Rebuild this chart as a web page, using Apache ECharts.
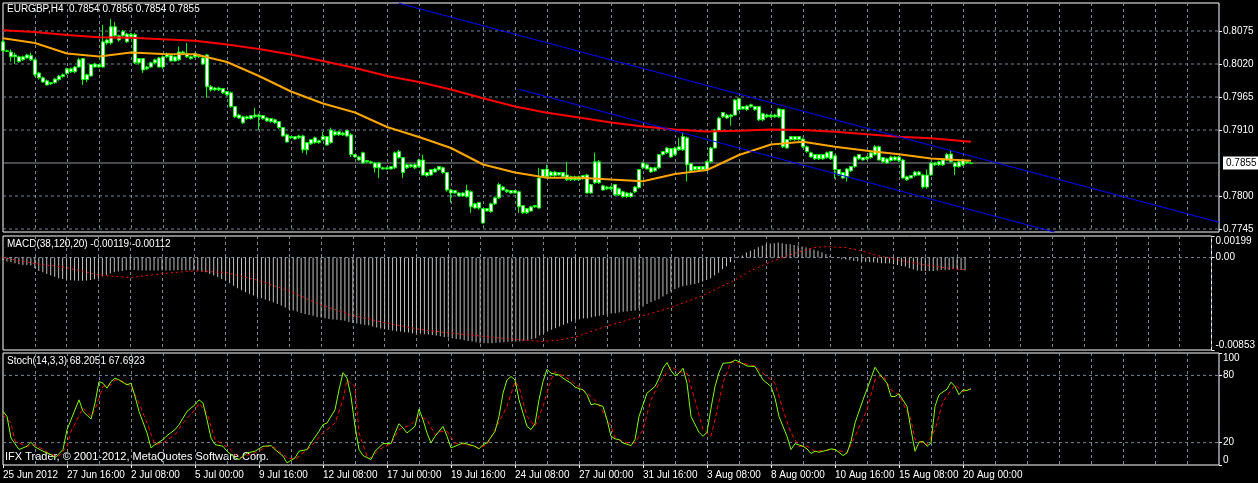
<!DOCTYPE html>
<html>
<head>
<meta charset="utf-8">
<script src="https://cdn.jsdelivr.net/npm/echarts@6/dist/echarts.min.js"></script>
<style>
  html, body { margin: 0; padding: 0; background: #000; }
  #main { width: 1258px; height: 483px; }
</style>
</head>
<body>
<div id="main"></div>
<script>
// time axis labels, one every 16 bars (H4)
var timeLabels = ['25 Jun 2012', '27 Jun 16:00', '2 Jul 08:00', '5 Jul 00:00', '9 Jul 16:00', '12 Jul 08:00',
  '17 Jul 00:00', '19 Jul 16:00', '24 Jul 08:00', '27 Jul 00:00', '31 Jul 16:00', '3 Aug 08:00',
  '8 Aug 00:00', '10 Aug 16:00', '15 Aug 08:00', '20 Aug 00:00'];
var slotCount = 305; // visible bar slots incl. empty right side

// EURGBP H4 candles: [open, close, low, high]
var candles = [
  [0.8057,0.8042,0.8040,0.8060],[0.8042,0.8041,0.8040,0.8044],[0.8040,0.8032,0.8024,0.8044],[0.8032,0.8035,0.8020,0.8039],
  [0.8032,0.8024,0.8022,0.8034],[0.8027,0.8032,0.8025,0.8034],[0.8030,0.8035,0.8029,0.8037],[0.8034,0.8027,0.8025,0.8039],
  [0.8027,0.8002,0.7999,0.8029],[0.8005,0.7997,0.7994,0.8007],[0.7997,0.7990,0.7989,0.7999],[0.7992,0.7985,0.7984,0.7994],
  [0.7989,0.7987,0.7985,0.7990],[0.7989,0.7995,0.7987,0.7997],[0.7994,0.8000,0.7992,0.8002],[0.7999,0.8002,0.7997,0.8004],
  [0.8004,0.8012,0.8002,0.8014],[0.8007,0.8012,0.8005,0.8014],[0.8007,0.8015,0.8005,0.8017],[0.8015,0.8027,0.8014,0.8030],
  [0.8029,0.7994,0.7985,0.8030],[0.7994,0.8002,0.7990,0.8004],[0.8000,0.8019,0.7999,0.8020],[0.8015,0.8020,0.8014,0.8022],
  [0.8019,0.8015,0.8014,0.8020],[0.8015,0.8057,0.8014,0.8085],[0.8055,0.8060,0.8052,0.8062],[0.8055,0.8082,0.8052,0.8095],
  [0.8082,0.8067,0.8065,0.8090],[0.8067,0.8060,0.8057,0.8069],[0.8067,0.8074,0.8065,0.8077],[0.8070,0.8057,0.8055,0.8072],
  [0.8065,0.8069,0.8064,0.8072],[0.8069,0.8022,0.8020,0.8072],[0.8022,0.8029,0.8019,0.8030],[0.8029,0.8010,0.8005,0.8030],
  [0.8012,0.8015,0.8010,0.8017],[0.8015,0.8022,0.8014,0.8024],[0.8022,0.8027,0.8020,0.8029],[0.8030,0.8015,0.8014,0.8032],
  [0.8015,0.8032,0.8012,0.8034],[0.8032,0.8037,0.8030,0.8039],[0.8034,0.8025,0.8024,0.8035],[0.8025,0.8032,0.8024,0.8034],
  [0.8027,0.8040,0.8025,0.8049],[0.8040,0.8037,0.8035,0.8042],[0.8037,0.8032,0.8030,0.8055],[0.8032,0.8029,0.8027,0.8034],
  [0.8032,0.8037,0.8030,0.8039],[0.8035,0.8032,0.8030,0.8037],[0.8030,0.8020,0.8019,0.8032],[0.8035,0.7982,0.7964,0.8037],
  [0.7982,0.7977,0.7974,0.7985],[0.7980,0.7977,0.7975,0.7982],[0.7977,0.7980,0.7975,0.7982],[0.7979,0.7972,0.7970,0.7980],
  [0.7974,0.7969,0.7967,0.7975],[0.7972,0.7949,0.7947,0.7974],[0.7949,0.7932,0.7930,0.7950],[0.7935,0.7930,0.7929,0.7937],
  [0.7932,0.7922,0.7920,0.7934],[0.7929,0.7932,0.7927,0.7934],[0.7934,0.7929,0.7927,0.7935],[0.7932,0.7935,0.7930,0.7947],
  [0.7935,0.7932,0.7910,0.7937],[0.7934,0.7929,0.7927,0.7935],[0.7930,0.7925,0.7924,0.7932],[0.7929,0.7924,0.7922,0.7930],
  [0.7927,0.7922,0.7920,0.7929],[0.7924,0.7914,0.7912,0.7925],[0.7914,0.7900,0.7899,0.7915],[0.7902,0.7890,0.7889,0.7904],
  [0.7897,0.7899,0.7895,0.7900],[0.7895,0.7899,0.7894,0.7900],[0.7897,0.7900,0.7895,0.7902],[0.7900,0.7877,0.7872,0.7902],
  [0.7877,0.7889,0.7869,0.7890],[0.7887,0.7894,0.7885,0.7895],[0.7889,0.7897,0.7887,0.7899],[0.7892,0.7889,0.7887,0.7894],
  [0.7894,0.7899,0.7892,0.7907],[0.7899,0.7885,0.7884,0.7900],[0.7889,0.7910,0.7887,0.7914],[0.7907,0.7902,0.7900,0.7909],
  [0.7902,0.7907,0.7900,0.7909],[0.7905,0.7902,0.7900,0.7907],[0.7900,0.7909,0.7899,0.7910],[0.7902,0.7869,0.7865,0.7905],
  [0.7869,0.7865,0.7864,0.7870],[0.7865,0.7860,0.7859,0.7867],[0.7855,0.7872,0.7854,0.7874],[0.7859,0.7857,0.7855,0.7860],
  [0.7857,0.7855,0.7854,0.7859],[0.7855,0.7847,0.7839,0.7857],[0.7847,0.7855,0.7830,0.7857],[0.7847,0.7845,0.7844,0.7849],
  [0.7847,0.7845,0.7844,0.7849],[0.7845,0.7849,0.7844,0.7850],[0.7847,0.7872,0.7845,0.7874],[0.7874,0.7864,0.7862,0.7877],
  [0.7864,0.7839,0.7830,0.7865],[0.7847,0.7852,0.7845,0.7854],[0.7849,0.7852,0.7847,0.7854],[0.7847,0.7852,0.7845,0.7854],
  [0.7849,0.7860,0.7847,0.7862],[0.7860,0.7835,0.7834,0.7869],[0.7839,0.7834,0.7832,0.7840],[0.7835,0.7844,0.7834,0.7845],
  [0.7840,0.7845,0.7839,0.7847],[0.7844,0.7849,0.7842,0.7850],[0.7847,0.7839,0.7837,0.7849],[0.7839,0.7810,0.7807,0.7840],
  [0.7810,0.7805,0.7789,0.7812],[0.7805,0.7809,0.7804,0.7810],[0.7805,0.7800,0.7799,0.7807],[0.7800,0.7805,0.7799,0.7807],
  [0.7799,0.7809,0.7797,0.7819],[0.7807,0.7782,0.7772,0.7809],[0.7787,0.7780,0.7779,0.7789],[0.7780,0.7789,0.7777,0.7790],
  [0.7779,0.7755,0.7754,0.7780],[0.7775,0.7779,0.7774,0.7780],[0.7774,0.7787,0.7772,0.7789],[0.7787,0.7797,0.7785,0.7799],
  [0.7797,0.7819,0.7795,0.7822],[0.7815,0.7810,0.7809,0.7817],[0.7810,0.7807,0.7805,0.7812],[0.7809,0.7805,0.7804,0.7810],
  [0.7809,0.7805,0.7804,0.7810],[0.7807,0.7782,0.7772,0.7809],[0.7784,0.7772,0.7770,0.7785],[0.7772,0.7779,0.7770,0.7780],
  [0.7775,0.7782,0.7774,0.7784],[0.7782,0.7784,0.7780,0.7785],[0.7780,0.7830,0.7779,0.7847],[0.7832,0.7844,0.7830,0.7845],
  [0.7845,0.7832,0.7830,0.7852],[0.7834,0.7840,0.7832,0.7842],[0.7840,0.7834,0.7832,0.7842],[0.7839,0.7835,0.7834,0.7840],
  [0.7839,0.7832,0.7830,0.7840],[0.7835,0.7827,0.7825,0.7857],[0.7832,0.7827,0.7825,0.7834],[0.7827,0.7832,0.7825,0.7834],
  [0.7832,0.7827,0.7825,0.7834],[0.7829,0.7834,0.7827,0.7835],[0.7835,0.7805,0.7804,0.7837],[0.7805,0.7819,0.7804,0.7820],
  [0.7822,0.7857,0.7820,0.7872],[0.7857,0.7822,0.7820,0.7860],[0.7817,0.7810,0.7809,0.7819],[0.7812,0.7815,0.7810,0.7817],
  [0.7815,0.7812,0.7810,0.7817],[0.7819,0.7802,0.7800,0.7820],[0.7802,0.7812,0.7800,0.7814],[0.7807,0.7799,0.7797,0.7809],
  [0.7799,0.7805,0.7797,0.7807],[0.7805,0.7799,0.7797,0.7807],[0.7807,0.7815,0.7805,0.7817],[0.7814,0.7844,0.7812,0.7845],
  [0.7847,0.7855,0.7845,0.7857],[0.7852,0.7845,0.7844,0.7854],[0.7847,0.7840,0.7839,0.7849],[0.7842,0.7847,0.7840,0.7849],
  [0.7847,0.7869,0.7845,0.7870],[0.7869,0.7874,0.7867,0.7875],[0.7872,0.7880,0.7870,0.7882],[0.7879,0.7865,0.7864,0.7880],
  [0.7869,0.7880,0.7867,0.7882],[0.7877,0.7882,0.7875,0.7897],[0.7877,0.7899,0.7875,0.7905],[0.7897,0.7852,0.7824,0.7899],
  [0.7854,0.7842,0.7840,0.7855],[0.7844,0.7849,0.7842,0.7850],[0.7849,0.7844,0.7842,0.7850],[0.7844,0.7849,0.7842,0.7850],
  [0.7844,0.7857,0.7842,0.7859],[0.7857,0.7880,0.7855,0.7882],[0.7880,0.7910,0.7879,0.7912],[0.7909,0.7930,0.7907,0.7932],
  [0.7932,0.7939,0.7930,0.7940],[0.7935,0.7930,0.7929,0.7937],[0.7932,0.7935,0.7917,0.7937],[0.7935,0.7960,0.7934,0.7962],
  [0.7962,0.7944,0.7942,0.7964],[0.7945,0.7949,0.7944,0.7950],[0.7944,0.7950,0.7942,0.7952],[0.7949,0.7952,0.7947,0.7954],
  [0.7949,0.7944,0.7942,0.7950],[0.7949,0.7927,0.7925,0.7950],[0.7927,0.7937,0.7925,0.7939],[0.7935,0.7932,0.7930,0.7937],
  [0.7932,0.7935,0.7930,0.7937],[0.7935,0.7932,0.7930,0.7937],[0.7932,0.7945,0.7930,0.7947],[0.7944,0.7882,0.7880,0.7945],
  [0.7880,0.7894,0.7879,0.7895],[0.7894,0.7899,0.7892,0.7900],[0.7899,0.7894,0.7892,0.7900],[0.7894,0.7899,0.7892,0.7900],
  [0.7895,0.7882,0.7880,0.7897],[0.7882,0.7874,0.7872,0.7884],[0.7872,0.7865,0.7864,0.7874],[0.7869,0.7862,0.7860,0.7870],
  [0.7862,0.7869,0.7860,0.7870],[0.7869,0.7862,0.7860,0.7870],[0.7864,0.7872,0.7862,0.7874],[0.7874,0.7862,0.7860,0.7875],
  [0.7867,0.7844,0.7829,0.7869],[0.7844,0.7835,0.7834,0.7845],[0.7839,0.7830,0.7829,0.7840],[0.7832,0.7845,0.7824,0.7847],
  [0.7842,0.7849,0.7840,0.7850],[0.7849,0.7865,0.7847,0.7867],[0.7862,0.7869,0.7860,0.7870],[0.7860,0.7864,0.7859,0.7865],
  [0.7862,0.7865,0.7860,0.7867],[0.7864,0.7872,0.7862,0.7874],[0.7869,0.7882,0.7867,0.7885],[0.7882,0.7860,0.7859,0.7884],
  [0.7864,0.7857,0.7855,0.7865],[0.7855,0.7862,0.7854,0.7864],[0.7859,0.7865,0.7857,0.7867],[0.7860,0.7865,0.7859,0.7867],
  [0.7865,0.7859,0.7857,0.7867],[0.7860,0.7830,0.7829,0.7862],[0.7832,0.7827,0.7825,0.7834],[0.7830,0.7834,0.7829,0.7835],
  [0.7834,0.7840,0.7832,0.7842],[0.7835,0.7840,0.7834,0.7842],[0.7835,0.7815,0.7812,0.7837],[0.7815,0.7835,0.7812,0.7844],
  [0.7835,0.7855,0.7834,0.7857],[0.7852,0.7855,0.7850,0.7857],[0.7852,0.7857,0.7850,0.7859],[0.7852,0.7860,0.7850,0.7862],
  [0.7860,0.7869,0.7859,0.7872],[0.7870,0.7857,0.7855,0.7875],[0.7855,0.7849,0.7835,0.7857],[0.7849,0.7857,0.7847,0.7859],
  [0.7852,0.7860,0.7850,0.7862],[0.7857,0.7855,0.7854,0.7859],[0.7854,0.7855,0.7854,0.7856]
];

// moving averages: [bar, price]
var maFast = [[0,0.80628],[8,0.80550],[16,0.80375],[24,0.80325],[32,0.80392],[40,0.80367],[48,0.80362],[56,0.80233],
  [64,0.80000],[72,0.79742],[80,0.79542],[88,0.79392],[96,0.79150],[104,0.78983],[112,0.78800],[120,0.78525],
  [128,0.78392],[136,0.78305],[144,0.78305],[152,0.78275],[160,0.78247],[168,0.78367],[176,0.78433],[184,0.78683],
  [192,0.78858],[200,0.78905],[208,0.78822],[216,0.78755],[224,0.78695],[232,0.78625],[242,0.78588]];
var maSlow = [[0,0.80763],[8,0.80733],[16,0.80683],[24,0.80647],[32,0.80638],[40,0.80612],[48,0.80587],[56,0.80525],
  [64,0.80450],[72,0.80358],[80,0.80250],[88,0.80133],[96,0.80000],[104,0.79900],[112,0.79775],[120,0.79628],
  [128,0.79492],[136,0.79387],[144,0.79308],[152,0.79225],[160,0.79158],[168,0.79108],[176,0.79075],[184,0.79088],
  [192,0.79108],[200,0.79100],[208,0.79072],[216,0.79028],[224,0.78988],[232,0.78962],[242,0.78905]];

// channel lines (two anchor points each)
var trendUpper = [[99, 0.81212], [304, 0.77562]];
var trendLower = [[129, 0.79778], [263, 0.77396]];

var bidPrice = 0.7855;
var priceLevels = [0.8075, 0.8020, 0.7965, 0.7910, 0.7800, 0.7745];

// MACD(38,120,20) histogram, one per bar
var macdHist = [
  -0.00022,-0.00037,-0.00043,-0.00052,-0.00062,-0.00068,-0.00068,-0.00074,-0.00098,-0.00123,
  -0.00135,-0.00151,-0.00166,-0.00178,-0.00191,-0.00197,-0.00203,-0.00209,-0.00212,-0.00215,
  -0.00215,-0.00212,-0.00206,-0.00200,-0.00191,-0.00175,-0.00160,-0.00148,-0.00135,-0.00129,
  -0.00123,-0.00117,-0.00114,-0.00114,-0.00117,-0.00120,-0.00120,-0.00120,-0.00120,-0.00120,
  -0.00120,-0.00120,-0.00120,-0.00117,-0.00117,-0.00117,-0.00117,-0.00117,-0.00120,-0.00120,
  -0.00123,-0.00135,-0.00151,-0.00166,-0.00181,-0.00197,-0.00212,-0.00237,-0.00261,-0.00283,
  -0.00301,-0.00320,-0.00335,-0.00351,-0.00363,-0.00375,-0.00388,-0.00400,-0.00412,-0.00428,
  -0.00443,-0.00461,-0.00477,-0.00489,-0.00498,-0.00511,-0.00520,-0.00529,-0.00538,-0.00548,
  -0.00554,-0.00560,-0.00566,-0.00572,-0.00575,-0.00578,-0.00584,-0.00594,-0.00603,-0.00609,
  -0.00615,-0.00621,-0.00628,-0.00637,-0.00646,-0.00655,-0.00661,-0.00667,-0.00674,-0.00680,
  -0.00683,-0.00689,-0.00692,-0.00698,-0.00701,-0.00704,-0.00707,-0.00711,-0.00714,-0.00720,
  -0.00726,-0.00732,-0.00738,-0.00744,-0.00751,-0.00757,-0.00763,-0.00769,-0.00775,-0.00781,
  -0.00791,-0.00791,-0.00791,-0.00791,-0.00787,-0.00784,-0.00781,-0.00778,-0.00775,-0.00775,
  -0.00775,-0.00769,-0.00763,-0.00754,-0.00744,-0.00720,-0.00698,-0.00683,-0.00667,-0.00652,
  -0.00637,-0.00621,-0.00606,-0.00591,-0.00575,-0.00569,-0.00563,-0.00560,-0.00551,-0.00544,
  -0.00538,-0.00529,-0.00523,-0.00517,-0.00514,-0.00508,-0.00501,-0.00498,-0.00492,-0.00489,
  -0.00471,-0.00452,-0.00428,-0.00409,-0.00397,-0.00385,-0.00360,-0.00338,-0.00314,-0.00289,
  -0.00277,-0.00265,-0.00258,-0.00252,-0.00243,-0.00234,-0.00221,-0.00206,-0.00191,-0.00166,
  -0.00141,-0.00108,-0.00080,-0.00043,-0.00006,0.00009,0.00018,0.00046,0.00062,0.00077,
  0.00095,0.00111,0.00123,0.00129,0.00132,0.00138,0.00132,0.00126,0.00123,0.00117,
  0.00111,0.00102,0.00092,0.00086,0.00071,0.00062,0.00049,0.00034,0.00015,0.00003,
  -0.00003,-0.00015,-0.00018,-0.00022,-0.00031,-0.00034,-0.00037,-0.00040,-0.00043,-0.00043,
  -0.00049,-0.00052,-0.00052,-0.00052,-0.00062,-0.00068,-0.00077,-0.00083,-0.00098,-0.00111,
  -0.00120,-0.00123,-0.00123,-0.00123,-0.00123,-0.00120,-0.00114,-0.00114,-0.00114,-0.00105,
  -0.00108,-0.00114,-0.00119
];
var macdSignal = [[0,0],[8,-0.00055],[16,-0.00092],[24,-0.00160],[32,-0.00185],[40,-0.00148],[48,-0.00123],
  [56,-0.00138],[64,-0.00209],[72,-0.00308],[80,-0.00437],[88,-0.00535],[96,-0.00600],[104,-0.00658],
  [112,-0.00695],[120,-0.00723],[128,-0.00754],[136,-0.00775],[140,-0.00760],[144,-0.00732],[152,-0.00631],
  [160,-0.00548],[168,-0.00461],[176,-0.00351],[184,-0.00209],[188,-0.00123],[192,-0.00058],[196,0],
  [200,0.00049],[204,0.00092],[208,0.00102],[212,0.00092],[216,0.00062],[220,0.00018],[224,-0.00012],
  [228,-0.00043],[232,-0.00068],[236,-0.00089],[240,-0.00108],[242,-0.00112]];
var macdLabels = [-0.00853, 0, 0.00199];

// Stochastic(14,3,3): [bar, value]
var stochMain = [[0,47.9],[1,43.4],[2,24.1],[4,13.8],[6,16.7],[7,20.3],[8,16.1],[10,12.3],[12,9.3],[13,6.4],
  [15,13.8],[16,31.6],[17,40.4],[19,58.2],[20,47.9],[22,41.0],[23,55.3],[24,74.5],[25,73.0],[26,68.6],
  [27,74.5],[28,77.5],[29,76.0],[31,71.6],[32,73.0],[33,61.2],[34,47.9],[36,28.6],[37,15.3],[38,18.2],
  [40,22.7],[41,26.2],[43,31.6],[44,36.0],[45,41.9],[46,47.9],[48,53.8],[49,58.2],[50,55.3],[51,40.4],
  [52,24.1],[53,18.2],[55,16.7],[56,12.3],[58,6.4],[59,4.9],[61,10.8],[63,12.3],[65,16.7],[67,17.3],
  [68,13.8],[70,7.9],[71,1.9],[73,6.4],[74,12.3],[76,13.8],[77,19.7],[79,30.1],[80,36.0],[81,37.5],
  [83,49.3],[84,67.1],[85,82.5],[86,77.5],[87,61.2],[88,34.5],[89,13.8],[90,8.4],[92,4.9],[93,12.3],
  [95,19.1],[97,19.1],[98,28.6],[99,36.9],[100,33.0],[101,28.6],[103,34.5],[104,49.9],[105,40.4],[106,28.6],
  [107,19.7],[108,25.6],[110,34.5],[111,25.6],[112,15.3],[114,18.2],[115,19.7],[118,16.7],[119,14.4],[120,18.2],
  [121,19.7],[123,30.0],[124,43.4],[125,64.1],[126,76.0],[127,79.0],[128,76.0],[129,58.2],[131,34.5],[132,31.6],
  [133,36.9],[134,58.2],[135,74.5],[136,85.5],[137,81.9],[139,80.4],[140,77.5],[142,73.0],[143,69.5],[145,67.1],
  [146,62.7],[147,53.8],[148,54.7],[150,52.3],[151,40.4],[152,25.6],[153,23.3],[154,22.7],[155,19.7],[157,17.3],
  [158,22.7],[159,43.4],[161,64.1],[163,70.1],[164,77.5],[165,86.4],[166,91.4],[167,84.3],[168,79.6],[169,81.9],
  [170,86.4],[171,73.0],[172,43.4],[174,29.2],[175,25.6],[176,29.2],[177,50.8],[178,70.1],[179,82.5],[180,90.8],
  [182,91.4],[183,93.8],[184,92.3],[186,88.4],[188,87.9],[189,81.9],[190,76.0],[192,70.1],[193,59.7],[194,43.4],
  [196,25.6],[197,13.8],[198,19.1],[200,16.7],[201,14.4],[202,10.2],[203,12.3],[204,11.4],[206,13.2],[207,14.4],
  [208,13.8],[209,11.4],[210,8.4],[211,10.8],[212,21.2],[213,37.5],[215,58.2],[216,67.7],[217,77.5],[218,87.3],
  [219,81.9],[221,73.0],[222,61.2],[223,61.2],[224,63.6],[226,52.3],[227,31.6],[228,12.3],[229,20.3],[230,21.2],
  [231,16.7],[232,19.7],[233,52.3],[234,62.7],[236,67.7],[237,73.9],[238,70.1],[239,62.7],[240,67.1],[241,66.5],
  [242,68.2]];
var stochSignal = [[0,44.9],[2,37.5],[3,21.2],[6,16.7],[8,18.2],[10,13.8],[12,9.3],[14,7.9],[16,16.7],[17,30.1],
  [20,50.8],[22,43.4],[23,49.3],[25,70.1],[27,71.6],[28,76.0],[30,74.5],[32,70.1],[34,55.3],[36,37.5],
  [38,18.2],[40,19.7],[43,27.1],[45,37.5],[48,49.3],[49,55.3],[51,46.4],[53,22.7],[57,13.8],[59,6.4],
  [63,10.8],[66,16.7],[68,15.3],[71,6.4],[73,4.9],[75,10.8],[77,16.7],[80,28.6],[83,37.5],[85,58.2],
  [86,76.0],[88,70.1],[89,28.6],[91,7.9],[92,6.4],[94,13.8],[97,19.1],[99,31.6],[102,36.0],[104,43.4],
  [106,40.4],[108,27.1],[109,30.1],[111,30.1],[113,19.7],[116,18.2],[119,15.3],[121,18.2],[123,31.6],[126,52.3],
  [128,74.5],[129,70.1],[131,43.4],[133,34.5],[135,52.3],[137,76.0],[138,83.4],[141,77.5],[144,70.1],[147,61.2],
  [149,53.8],[152,34.5],[153,24.1],[156,19.7],[158,19.7],[160,31.6],[162,58.2],[164,73.0],[167,87.9],[169,83.4],
  [171,81.9],[173,58.2],[175,31.6],[177,25.6],[178,40.4],[180,73.0],[182,92.3],[185,90.8],[188,88.4],[190,81.9],
  [193,73.0],[195,49.3],[197,28.6],[199,16.7],[201,16.7],[203,12.3],[206,13.2],[208,13.8],[211,10.8],[213,25.6],
  [216,49.3],[218,76.0],[220,80.4],[222,67.1],[224,62.7],[227,40.4],[228,22.7],[231,18.2],[233,31.6],[235,56.7],
  [238,71.6],[240,65.6],[242,67.7]];
var stochLevels = [20, 80];
var stochLabels = [0, 20, 80, 100];

var FONT = 'Liberation Sans';
var GRIDC = '#778899';
var lastSlot = slotCount - 1;

var cats = [];
for (var i = 0; i < slotCount; i++) {
  cats.push(i % 16 === 0 && i / 16 < timeLabels.length ? timeLabels[i / 16] : '');
}

function xAxisFor(gridIndex, showLabels) {
  return {
    type: 'category', gridIndex: gridIndex, data: cats, boundaryGap: false,
    axisLine: { show: false },
    axisTick: { show: showLabels, length: 3, lineStyle: { color: '#fff' },
      interval: function (idx, v) { return v !== ''; } },
    axisLabel: { show: showLabels, color: '#fff', fontFamily: FONT, fontSize: 10, align: 'left', margin: 5,
      interval: function (idx, v) { return v !== ''; } },
    splitLine: { show: true, lineStyle: { color: GRIDC, type: [3, 3], width: 1 },
      interval: function (idx) { return idx > 0 && idx % 8 === 0; } }
  };
}

// horizontal level as a plain two-point line through the axis scale
function levelSeries(v, axisIdx, style, extra) {
  var s = {
    type: 'line', xAxisIndex: axisIdx, yAxisIndex: axisIdx, silent: true, showSymbol: false, z: 1,
    data: [[0, v], [lastSlot, v]], lineStyle: style
  };
  for (var k in (extra || {})) s[k] = extra[k];
  return s;
}

var lvlLine = { color: GRIDC, type: [3, 3], width: 1 };

var series = [];
priceLevels.forEach(function (v) { series.push(levelSeries(v, 0, lvlLine)); });
series.push(levelSeries(bidPrice, 0, { color: '#8c949c', width: 1 }, {
  z: 2,
  endLabel: { show: true, distance: 4, formatter: bidPrice.toFixed(4), color: '#000', backgroundColor: '#fff',
    padding: [2, 3, 1, 3], fontFamily: FONT, fontSize: 10 }
}));
series.push(levelSeries(0, 1, lvlLine));
stochLevels.forEach(function (v) { series.push(levelSeries(v, 2, lvlLine)); });

series.push(
  { name: 'EURGBP', type: 'candlestick', xAxisIndex: 0, yAxisIndex: 0, data: candles, barWidth: 3, z: 3,
    itemStyle: { color: '#fff', color0: '#fff', borderColor: '#00ff00', borderColor0: '#00ff00', borderWidth: 1 } },
  { name: 'MA fast', type: 'line', xAxisIndex: 0, yAxisIndex: 0, data: maFast, showSymbol: false,
    lineStyle: { color: '#ffa500', width: 2 }, z: 4 },
  { name: 'MA slow', type: 'line', xAxisIndex: 0, yAxisIndex: 0, data: maSlow, showSymbol: false,
    lineStyle: { color: '#ff0000', width: 2 }, z: 4 },
  { name: 'channel hi', type: 'line', xAxisIndex: 0, yAxisIndex: 0, data: trendUpper, showSymbol: false,
    lineStyle: { color: '#0000ff', width: 1 }, z: 5 },
  { name: 'channel lo', type: 'line', xAxisIndex: 0, yAxisIndex: 0, data: trendLower, showSymbol: false,
    lineStyle: { color: '#0000ff', width: 1 }, z: 5 },
  { name: 'MACD', type: 'bar', xAxisIndex: 1, yAxisIndex: 1, data: macdHist, barWidth: 1, z: 3,
    itemStyle: { color: '#c0c0c0' } },
  { name: 'Signal', type: 'line', xAxisIndex: 1, yAxisIndex: 1, data: macdSignal, showSymbol: false,
    lineStyle: { color: '#ff0000', width: 1, type: [2, 3] }, z: 4 },
  { name: 'Stoch', type: 'line', xAxisIndex: 2, yAxisIndex: 2, data: stochMain, showSymbol: false,
    lineStyle: { color: '#7fff00', width: 1 }, z: 4 },
  { name: 'Stoch signal', type: 'line', xAxisIndex: 2, yAxisIndex: 2, data: stochSignal, showSymbol: false,
    lineStyle: { color: '#ff0000', width: 1, type: [4, 3] }, z: 3 }
);

var chart = echarts.init(document.getElementById('main'));
chart.setOption({
  backgroundColor: '#000',
  animation: false,
  grid: [
    { left: 3, right: 39, top: 3, height: 229, show: true, borderColor: '#fff', borderWidth: 1 },
    { left: 3, right: 39, top: 236, height: 114, show: true, borderColor: '#fff', borderWidth: 1 },
    { left: 3, right: 39, top: 353, height: 112, show: true, borderColor: '#fff', borderWidth: 1 }
  ],
  xAxis: [xAxisFor(0, false), xAxisFor(1, false), xAxisFor(2, true)],
  yAxis: [
    { type: 'value', gridIndex: 0, position: 'right', min: 0.7740, max: 0.812167, scale: true,
      axisLine: { show: false }, splitLine: { show: false },
      axisTick: { show: true, length: 3, lineStyle: { color: '#fff' }, customValues: priceLevels },
      axisLabel: { color: '#fff', fontFamily: FONT, fontSize: 10, margin: 4, customValues: priceLevels,
        formatter: function (v) { return v.toFixed(4); } } },
    { type: 'value', gridIndex: 1, position: 'right', min: -0.00853, max: 0.00199,
      axisLine: { show: false }, splitLine: { show: false },
      axisTick: { show: true, length: 3, lineStyle: { color: '#fff' }, customValues: macdLabels },
      axisLabel: { color: '#fff', fontFamily: FONT, fontSize: 10, margin: 4, customValues: macdLabels,
        verticalAlignMinLabel: 'bottom', verticalAlignMaxLabel: 'top',
        formatter: function (v) { return v === 0 ? '0.00' : v.toFixed(5); } } },
    { type: 'value', gridIndex: 2, position: 'right', min: 0, max: 100,
      axisLine: { show: false }, splitLine: { show: false },
      axisTick: { show: true, length: 3, lineStyle: { color: '#fff' }, customValues: stochLabels },
      axisLabel: { color: '#fff', fontFamily: FONT, fontSize: 10, margin: 4, customValues: stochLabels,
        verticalAlignMinLabel: 'bottom', verticalAlignMaxLabel: 'top' } }
  ],
  series: series,
  graphic: [
    { type: 'text', left: 7, top: 4, silent: true,
      style: { text: 'EURGBP,H4  0.7854 0.7856 0.7854 0.7855', fill: '#fff', font: '10px "Liberation Sans"' } },
    { type: 'text', left: 7, top: 239, silent: true,
      style: { text: 'MACD(38,120,20) -0.00119 -0.00112', fill: '#fff', font: '10px "Liberation Sans"' } },
    { type: 'text', left: 7, top: 356, silent: true,
      style: { text: 'Stoch(14,3,3) 68.2051 67.6923', fill: '#fff', font: '10px "Liberation Sans"' } },
    { type: 'text', left: 5, top: 451, silent: true,
      style: { text: 'IFX Trader, \u00a9 2001-2012, MetaQuotes Software Corp.', fill: '#fff', font: '11px "Liberation Sans"' } }
  ]
});
</script>
</body>
</html>
